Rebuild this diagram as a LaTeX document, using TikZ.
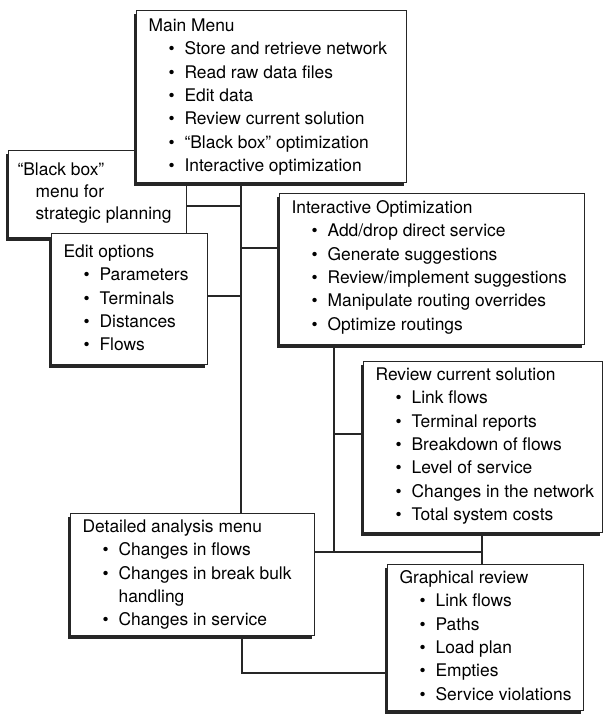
\documentclass[tikz,border=0pt]{standalone}
\usepackage{fontspec}
\setmainfont{TeX Gyre Heros}
\usetikzlibrary{shadows}

% box contents: [first baseline]{width}{height}{lines}
\newcommand{\menutext}[4][21pt]{%
  \parbox[t][#3][t]{#2}{\raggedright\leftskip=12pt\rule{0pt}{#1}#4}}
\newcommand{\mitem}[1]{\par\hangindent=36pt\hspace*{20pt}\makebox[16pt][l]{\textbullet}#1}

\tikzset{
  menu/.style={draw=black!85, line width=1.2pt, fill=white, inner sep=0pt,
    anchor=north west, font=\fontsize{17.4pt}{23.3pt}\selectfont,
    drop shadow={shadow xshift=-3pt, shadow yshift=-3pt, opacity=1, fill=black!85}},
  link/.style={draw=black!85, line width=1.1pt}
}

\begin{document}
\begin{tikzpicture}[x=1pt, y=-1pt]
\useasboundingbox (0,0) rectangle (604,714);

% menus
\node[menu] (blackbox) at (8,150) {\menutext[25pt]{178pt}{87pt}{\baselineskip=22pt
  \hspace*{-3pt}“Black box”\par
  \hspace*{15pt}menu for\par
  \hspace*{15pt}strategic planning}};
\node[menu] (main) at (136,10) {\menutext{270pt}{172pt}{Main Menu
  \mitem{Store and retrieve network}
  \mitem{Read raw data files}
  \mitem{Edit data}
  \mitem{Review current solution}
  \mitem{“Black box” optimization}
  \mitem{Interactive optimization}}};
\node[menu] (edit) at (51,233) {\menutext[24pt]{156pt}{131pt}{Edit options
  \mitem{Parameters}
  \mitem{Terminals}
  \mitem{Distances}
  \mitem{Flows}}};
\node[menu] (inter) at (279,193) {\menutext[20pt]{305pt}{151pt}{Interactive Optimization
  \mitem{Add/drop direct service}
  \mitem{Generate suggestions}
  \mitem{Review/implement suggestions}
  \mitem{Manipulate routing overrides}
  \mitem{Optimize routings}}};
\node[menu] (review) at (363,361) {\menutext[19pt]{239pt}{171pt}{Review current solution
  \mitem{Link flows}
  \mitem{Terminal reports}
  \mitem{Breakdown of flows}
  \mitem{Level of service}
  \mitem{Changes in the network}
  \mitem{Total system costs}}};
\node[menu] (detail) at (70,513) {\menutext[19pt]{244pt}{122pt}{Detailed analysis menu
  \mitem{Changes in flows}
  \mitem{Changes in break bulk\newline handling}
  \mitem{Changes in service}}};
\node[menu] (graph) at (387,564) {\menutext[19pt]{196pt}{146pt}{Graphical review
  \mitem{Link flows}
  \mitem{Paths}
  \mitem{Load plan}
  \mitem{Empties}
  \mitem{Service violations}}};

% junctions
\coordinate (trunk) at (241,206);
\coordinate (editj) at (241,296);
\coordinate (interj) at (241,248);
\coordinate (revj) at (334,434);
\coordinate (detj) at (482,552);
\coordinate (grj) at (242,673);

% links
\draw[link] (main.south -| trunk) -- (detail.north -| trunk);
\draw[link] (blackbox.east |- trunk) -- (trunk);
\draw[link] (edit.east |- editj) -- (editj);
\draw[link] (interj) -- (inter.west |- interj);
\draw[link] (inter.south -| revj) -- (revj |- detj);
\draw[link] (revj) -- (review.west |- revj);
\draw[link] (detail.east |- detj) -- (detj);
\draw[link] (review.south -| detj) -- (graph.north -| detj);
\draw[link] (detail.south -| grj) -- (grj) -- (graph.west |- grj);
\end{tikzpicture}
\end{document}
